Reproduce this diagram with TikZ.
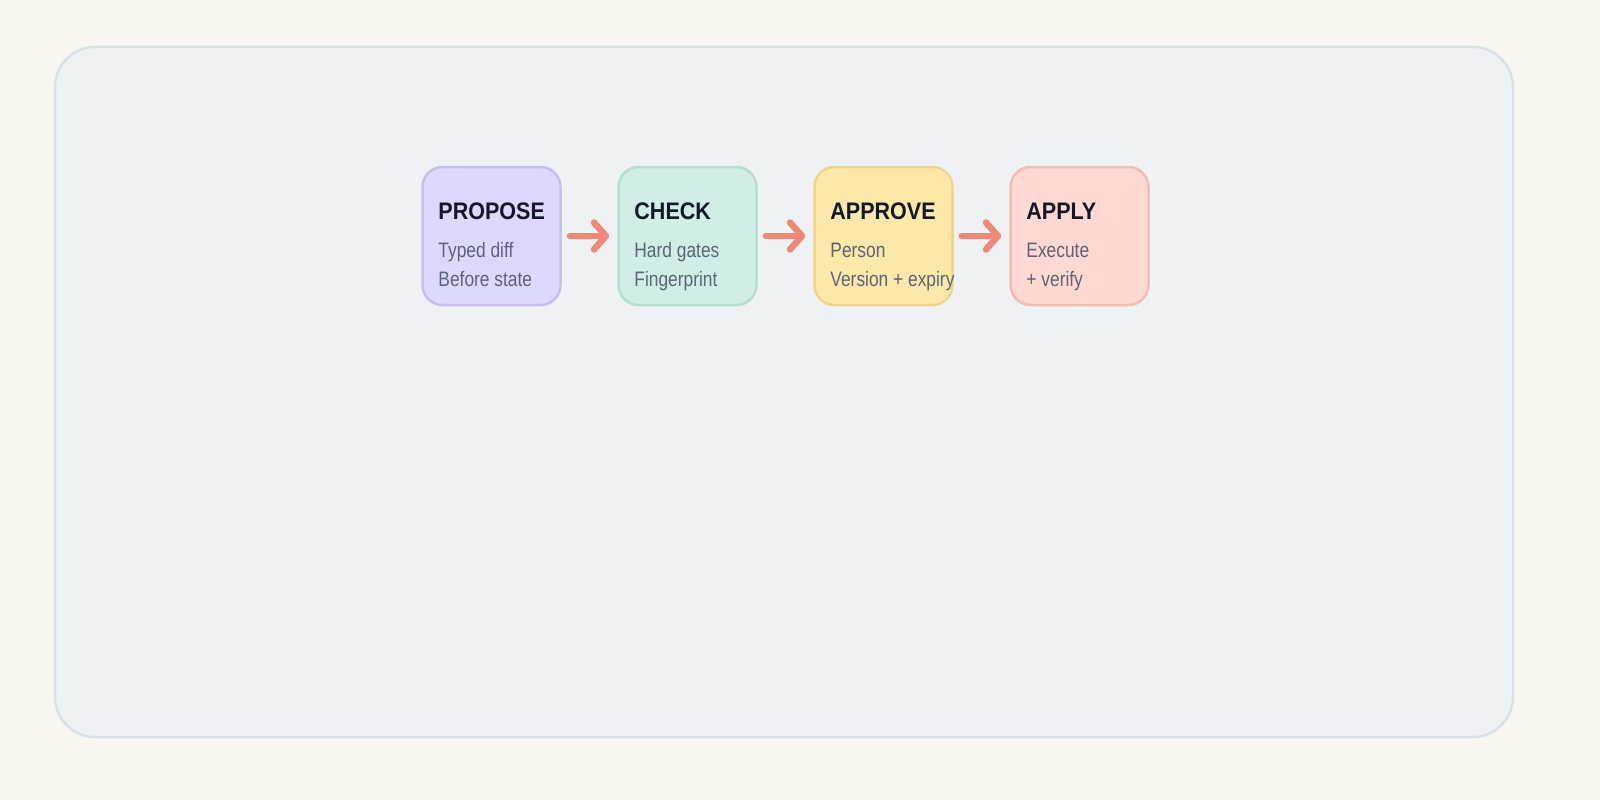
\documentclass[tikz,border=0pt]{standalone}
\usepackage{fontspec}
\setmainfont{Liberation Sans}
\newfontfamily\headfont[FakeStretch=0.9]{Liberation Sans}
\newfontfamily\notefont[FakeStretch=0.83]{Liberation Sans}
\usetikzlibrary{arrows.meta}

\definecolor{pagebg}{HTML}{F8F7F2}
\definecolor{panelfill}{HTML}{EEF2F5}
\definecolor{panelline}{HTML}{D9E1EA}
\definecolor{headink}{HTML}{111827}
\definecolor{noteink}{HTML}{5B6478}
\definecolor{flowink}{HTML}{F08878}
\definecolor{proposefill}{HTML}{DDD8FD}
\definecolor{proposeline}{HTML}{C8BEF4}
\definecolor{checkfill}{HTML}{D0EEE6}
\definecolor{checkline}{HTML}{B5DFCF}
\definecolor{approvefill}{HTML}{FCE8A9}
\definecolor{approveline}{HTML}{EDD68A}
\definecolor{applyfill}{HTML}{FFD9D2}
\definecolor{applyline}{HTML}{F3BDB2}

\tikzset{
    stagebox/.style={rounded corners=20bp, line width=2.5bp, minimum width=138bp, minimum height=138bp, inner sep=0pt},
    stagehead/.style={anchor=base west, inner sep=0pt, text=headink, font=\headfont\bfseries\fontsize{24}{24}\selectfont},
    stagenote/.style={anchor=base west, inner sep=0pt, text=noteink, font=\notefont\fontsize{21}{21}\selectfont},
    flow/.style={flowink, line width=6.5bp, line cap=round, -{Straight Barb[round, length=12bp, width=27bp]}, shorten <=8bp, shorten >=8bp}
}

\begin{document}
\begin{tikzpicture}[x=1bp, y=-1bp]
    \fill[pagebg] (0,0) rectangle (1600,800);
    \useasboundingbox (0,0) rectangle (1600,800);
    \draw[panelline, fill=panelfill, line width=2.5bp, rounded corners=40bp] (55,47) rectangle (1513,737);

    \foreach \n/\x/\t/\la/\lb in {propose/491.5/PROPOSE/Typed diff/Before state,
                                  check/687.5/CHECK/Hard gates/Fingerprint,
                                  approve/883.5/APPROVE/Person/Version + expiry,
                                  apply/1079.5/APPLY/Execute/+ verify} {
        \node[stagebox, draw=\n line, fill=\n fill] (\n) at (\x,236) {};
        \node[stagehead] (\n-head) at ([xshift=17bp, yshift=-54bp]\n.north west) {\t};
        \node[stagenote] (\n-la) at ([xshift=17bp, yshift=-92bp]\n.north west) {\la};
        \node[stagenote] (\n-lb) at ([xshift=17bp, yshift=-121bp]\n.north west) {\lb};
    }

    \foreach \a/\b in {propose/check, check/approve, approve/apply}
        \draw[flow] (\a) -- (\b);
\end{tikzpicture}
\end{document}
